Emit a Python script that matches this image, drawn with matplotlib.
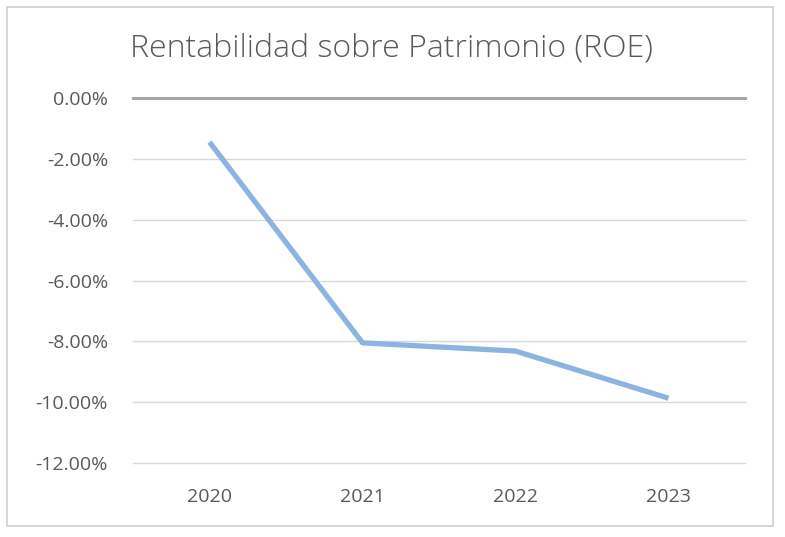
import matplotlib.pyplot as plt
from matplotlib.patches import Rectangle
from matplotlib.ticker import FuncFormatter

years = ["2020", "2021", "2022", "2023"]
roe = [-1.45, -8.05, -8.32, -9.87]
y_ticks = [0, -2, -4, -6, -8, -10, -12]

plt.rcParams['font.family'] = ['Open Sans', 'DejaVu Sans']
txt = "#595959"

fig = plt.figure(figsize=(7.85, 5.37), dpi=100)
ax = fig.add_axes([133/785, 1 - 463/537, (745 - 133)/785, (463 - 98)/537])

# chart border
fig.patches.append(Rectangle((7/785, 1 - 526/537), 766/785, 519/537,
                             transform=fig.transFigure, fill=False,
                             edgecolor="#d0d0d0", linewidth=1.2))

x = list(range(len(years)))
ax.plot(x, roe, color="#8db4e0", linewidth=3.8, solid_capstyle="butt", zorder=3)

ax.set_xlim(-0.5, 3.5)
ax.set_ylim(-12, 0)
ax.set_yticks(y_ticks)
ax.yaxis.set_major_formatter(FuncFormatter(lambda v, p: f"{v:.2f}%"))
ax.set_xticks(x)
ax.set_xticklabels(years)

for t in y_ticks:
    if t == 0:
        ax.axhline(t, color="#a6a6a6", linewidth=2.2, zorder=2, clip_on=False)
    else:
        ax.axhline(t, color="#d9d9d9", linewidth=1.0, zorder=1, clip_on=False)

for s in ax.spines.values():
    s.set_visible(False)
ax.tick_params(length=0, labelsize=14, colors=txt)
ax.tick_params(axis="y", pad=18)
ax.tick_params(axis="x", pad=18)

fig.text(391/785, 1 - 48/537, "Rentabilidad sobre Patrimonio (ROE)",
         ha="center", va="center", fontsize=23, color=txt, fontweight="light")

fig.savefig("out.png", dpi=100)
